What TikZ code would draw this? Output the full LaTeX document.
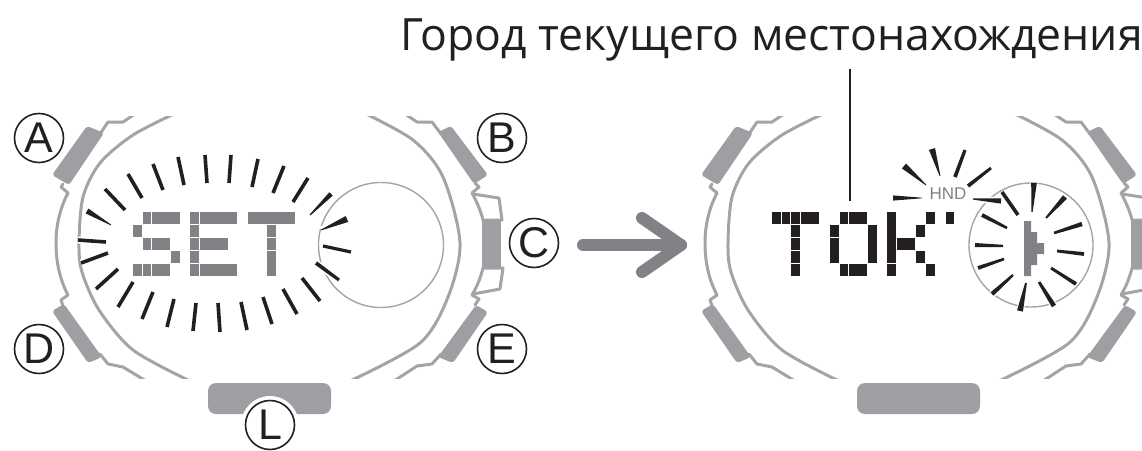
\documentclass[tikz,border=0pt]{standalone}
\usepackage{fontspec}
\setmainfont{Open Sans}
\newfontfamily\labelfont{Liberation Sans}
\usetikzlibrary{calc}

\definecolor{casegray}{HTML}{A2A4A7}
\definecolor{btngray}{HTML}{9D9FA2}
\definecolor{lcdgray}{HTML}{808285}
\definecolor{inkblack}{HTML}{231F20}

\tikzset{
  caseline/.style={draw=casegray, line width=3pt, line join=round, line cap=round},
  btnfill/.style={fill=btngray, rounded corners=3pt},
  btnlabel/.style={circle, draw=inkblack, line width=1.6pt, fill=white, minimum size=49pt, inner sep=0pt, text=inkblack, font=\labelfont\fontsize{43}{43}\selectfont},
  lcdcell/.style={draw=white, line width=.35pt},
}

% one spark: thin at the first point, wider at the second
\newcommand{\spark}[6]{%
  \fill[white] ($(#1,#2)!3.5pt!90:(#3,#4)$) -- ($(#1,#2)!3.5pt!-90:(#3,#4)$) -- ($(#3,#4)!3.5pt!90:(#1,#2)$) -- ($(#3,#4)!3.5pt!-90:(#1,#2)$) -- cycle;
  \fill[inkblack] ($(#1,#2)!#5pt!90:(#3,#4)$) -- ($(#1,#2)!#5pt!-90:(#3,#4)$) -- ($(#3,#4)!#6pt!90:(#1,#2)$) -- ($(#3,#4)!#6pt!-90:(#1,#2)$) -- cycle;}

\begin{document}
\begin{tikzpicture}[x=1pt, y=-1pt]
  \useasboundingbox (0,0) rectangle (1142,450);
  \clip (0,0) rectangle (1142,450);

  % both watch cases
  \foreach \shiftx in {0,649}{
  \begin{scope}[xshift=\shiftx pt]
    \begin{scope}
    \clip (0,116) rectangle (520,378);
    \draw[caseline] plot[smooth] coordinates {(178,112) (133,135) (100,163) (83,197) (79,243) (82,272) (99,310) (133,350) (190,381)};
    \draw[caseline] plot[smooth] coordinates {(362,112) (413,140) (443,177) (460,243) (448,297) (420,343) (350,381)};
    \draw[caseline] (138,112) -- (123,122) -- (108,122) -- (100,134);
    \draw[caseline] (146,381) -- (123,367) -- (108,364) -- (100,354);
    \draw[caseline] (402,112) -- (417,122) -- (432,122) -- (441,134);
    \draw[caseline] (394,381) -- (417,366) -- (432,364) -- (441,354);
    \end{scope}
    \draw[caseline] (63,184) -- (61,187) -- (68,193) .. controls (59,210) and (56,228) .. (56,243)
      .. controls (56,260) and (59,278) .. (68,295) -- (61,300) -- (63,306);
    \draw[caseline] (475,183) -- (479,187) -- (472,193) .. controls (478,204) and (481,212) .. (483,220);
    \draw[caseline] (483,268) .. controls (481,276) and (478,285) .. (472,295) -- (479,299) -- (475,305);
    \draw[caseline] (473,194) -- (499,198) -- (502,220) -- (483,220);
    \draw[caseline] (473,294) -- (500,289) -- (503,268) -- (483,268);
    \fill[btnfill] (87,126) -- (104,133) -- (69,185) -- (52,175) -- cycle;
    \fill[btnfill] (52,311) -- (64,304) -- (102,357) -- (88,363) -- cycle;
    \fill[btnfill] (451,126) -- (438,132) -- (474,184) -- (488,175) -- cycle;
    \fill[btnfill] (476,305) -- (488,312) -- (453,363) -- (438,357) -- cycle;
    \fill[btngray] (482,220) rectangle (501,268);
    \fill[btngray, rounded corners=8pt] (208,383) rectangle (331,414);
  \end{scope}
  }

  % labels
  \fill[white] (270,425) circle (29);
  \foreach \x/\y/\name in {39/138/A, 502/138/B, 534/243/C, 39/349/D, 502/349/E, 270/425/L}{
  \node[btnlabel] (\name) at (\x,\y) {\name}; }

  % dials
  \node[circle, draw=casegray, line width=1.4pt, minimum size=125pt, inner sep=0pt] (dialleft) at (381,245) {};
  \node[circle, draw=casegray, line width=1.4pt, minimum size=124pt, inner sep=0pt] (dialright) at (1031,245) {};

  % SET
  \foreach \xa/\ya/\xb/\yb in {142/211/151.5/224, 151.5/211/180/224, 132/224/142/237, 142/237/151/250, 151/237/170/250, 170/250/180/263,
    132/263/142/276, 142/263/151/276, 151/263/170/276,
    189/211/199/224, 199/211/237/224, 189/224/199/237, 189/237/199/250, 199/237/228/250, 189/250/199/263, 189/263/199/276, 199/263/237/276,
    247/211/295/224, 266/224/276/237, 266/237/276/250, 266/250/276/276}{
  \fill[lcdgray, lcdcell] (\xa,\ya) rectangle (\xb,\yb); }

  % TOK
  \foreach \xa/\ya/\xb/\yb in {771/211/781/224, 781/211/790/224, 790/211/800/224, 800/211/819/224, 790/224/800/237, 790/237/800/250, 790/250/800/263, 790/263/800/276,
    839/211/848/224, 848/211/867/224, 829/224/839/237, 829/237/839/263, 867/224/877/263, 839/263/848/276, 848/263/867/276,
    886/211/896/263, 886/263/896/276, 896/237/915/250, 915/224/925/237, 925/211/935/224, 915/250/925/263, 925/263/935/276,
    945/211/954/224}{
  \fill[inkblack, lcdcell] (\xa,\ya) rectangle (\xb,\yb); }

  % sparks round SET
  \foreach \ax/\ay/\bx/\by/\wa/\wb in {125/210/105/189/1.8/1.8, 142/198/128/174/1.8/1.8, 163/190/153/164/1.8/1.8, 184/185/178/157/1.8/1.8,
    207/183/205/155/1.8/1.8, 229/183/231/155/1.8/1.8, 252/187/258/159/1.8/1.8, 273/193/284/166/1.8/1.8,
    293/202/308/178/1.8/1.8, 310/215/331/194/.6/2.4, 321/230/347/219/.4/3.2, 323/246/351/252/1.6/1.6, 316/263/339/280/1.9/1.6,
    302/278/320/301/1.8/1.8, 283/289/297/314/1.8/1.8, 263/297/272/324/1.8/1.8, 241/302/247/330/1.8/1.8, 218/303/220/332/1.8/1.8,
    196/303/193/331/1.8/1.8, 174/299/167/327/1.8/1.8, 153/292/142/319/1.8/1.8, 133/282/118/307/1.8/1.8, 118/269/96/289/1.8/1.8,
    108/253/81/263/1.8/1.8, 106/242/78/240/1.8/1.8, 111/225/87/211/.4/2.8}{
  \spark{\ax}{\ay}{\bx}{\by}{\wa}{\wb} }

  % sparks round HND and the dial
  \foreach \ax/\ay/\bx/\by/\wa/\wb in {922/198/893/198/.3/2.6, 926/185/904/166/.4/3.2, 940/176/932/149/.4/3.2, 955/177/965/150/1.9/1.6, 968/186/991/168/1.9/1.4,
    973/199/1001/201/.6/2.6, 1018/215/1002/192/1.8/1.8, 1032/212/1034/183/.6/2.8, 1046/218/1065/197/.9/2.6, 1054/233/1082/224/1.3/2.2,
    1057/251/1084/254/1.4/1.9, 1051/268/1076/284/1.4/1.9, 1039/282/1054/306/1.4/2.4, 1026/283/1020/311/.9/3, 1013/275/992/294/1.2/2.2,
    1004/259/978/268/1.3/1.9, 1003/246/975/245/1.2/2, 1007/228/982/215/1.3/2}{
  \spark{\ax}{\ay}{\bx}{\by}{\wa}{\wb} }

  \node[text=lcdgray, inner sep=0pt, font=\labelfont\fontsize{17}{17}\selectfont] (hnd) at (948,194) {HND};

  % stepped pointer
  \fill[lcdgray] (1024,221) -- (1031,221) -- (1031,232) -- (1037,232) -- (1037,243) -- (1044,243) -- (1044,254) -- (1037,254) -- (1037,265) -- (1031,265) -- (1031,276) -- (1024,276) -- cycle;

  % title, leader and arrow
  \node[anchor=base west, inner sep=0pt, text=inkblack, font=\fontsize{44.5}{46}\selectfont] (title) at (400,50) {Город текущего местонахождения};
  \coordinate (leadtop) at (850,69);
  \coordinate (leadbot) at (850,201);
  \draw[inkblack, line width=1.5pt] (leadtop) -- (leadbot);

  \coordinate (arrowtail) at (583,245);
  \coordinate (arrowtip) at (681,245);
  \coordinate (barbup) at (642,218);
  \coordinate (barbdown) at (642,272);
  \draw[lcdgray, line width=12pt, line cap=round, line join=round] (arrowtail) -- (arrowtip);
  \draw[lcdgray, line width=12pt, line cap=round, line join=round] (barbup) -- (arrowtip) -- (barbdown);
\end{tikzpicture}
\end{document}
